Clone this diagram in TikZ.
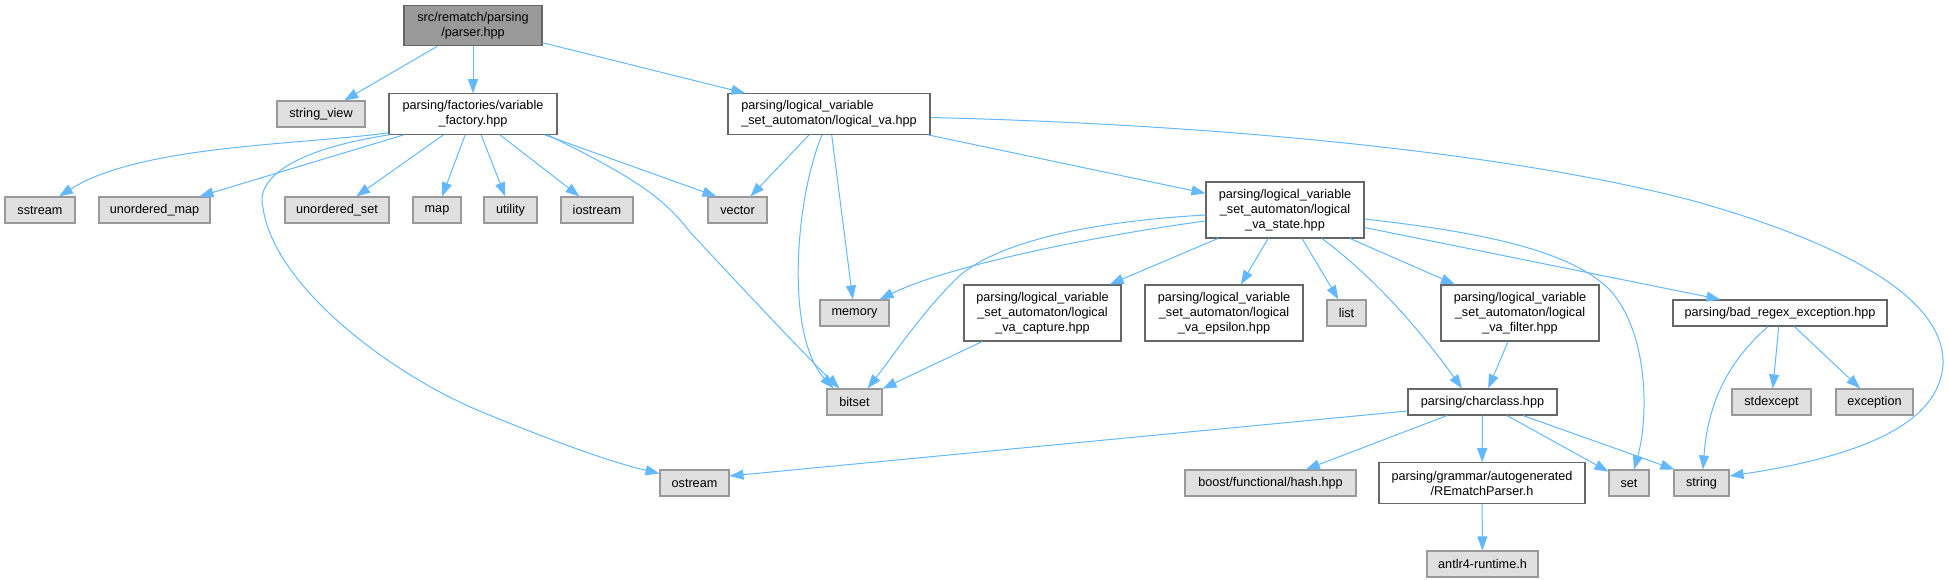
\documentclass[tikz,border=0pt]{standalone}
\usepackage{fontspec}
\setmainfont{Liberation Sans}
\usetikzlibrary{arrows.meta,calc}
\definecolor{edgec}{HTML}{63B8FF}
\definecolor{extfill}{HTML}{E0E0E0}
\definecolor{extdraw}{HTML}{999999}
\definecolor{intdraw}{HTML}{666666}
\definecolor{rootfill}{HTML}{999999}
\begin{document}
\begin{tikzpicture}[x=0.75pt,y=-0.75pt,
  box/.style={draw=intdraw, fill=white, line width=0.8pt, inner sep=0pt,
    font=\fontsize{9.5}{11.2}\selectfont, align=center, minimum height=19.5pt},
  ext/.style={box, draw=extdraw, fill=extfill},
  root/.style={box, fill=rootfill},
  two/.style={minimum height=30.4pt},
  three/.style={minimum height=42pt},
  dep/.style={draw=edgec, line width=0.75pt, -{Triangle[length=10.5pt,width=7.5pt]}},
]
\useasboundingbox (0,0) rectangle (1949,579);

% nodes
\node[root, two, minimum width=103.5pt] (parser) at (473,25.5) {src/rematch/parsing\\/parser.hpp};
\node[ext, minimum width=66pt] (sv) at (321,114) {string\_view};
\node[box, two, minimum width=126pt] (vf) at (473,114) {parsing/factories/variable\\\_factory.hpp};
\node[box, two, minimum width=151.5pt, align=left] (lva) at (829,114) {parsing/logical\_variable\\\_set\_automaton/logical\_va.hpp};

\node[ext, minimum width=52.5pt] (sstream) at (40,210) {sstream};
\node[ext, minimum width=83.25pt] (umap) at (154.5,210) {unordered\_map};
\node[ext, minimum width=78pt] (uset) at (337,210) {unordered\_set};
\node[ext, minimum width=36pt] (map) at (437,210) {map};
\node[ext, minimum width=39.75pt] (utility) at (510.5,210) {utility};
\node[ext, minimum width=54pt] (iostream) at (597,210) {iostream};
\node[ext, minimum width=44.25pt] (vector) at (737.5,210) {vector};
\node[box, three, minimum width=118.5pt] (state) at (1285,210) {parsing/logical\_variable\\\_set\_automaton/logical\\\_va\_state.hpp};

\node[ext, minimum width=51.75pt] (memory) at (854.5,313) {memory};
\node[box, three, minimum width=117.75pt] (capture) at (1042.5,313) {parsing/logical\_variable\\\_set\_automaton/logical\\\_va\_capture.hpp};
\node[box, three, minimum width=118.5pt] (epsilon) at (1224,313) {parsing/logical\_variable\\\_set\_automaton/logical\\\_va\_epsilon.hpp};
\node[ext, minimum width=29.25pt] (list) at (1346.5,313) {list};
\node[box, three, minimum width=118.5pt] (filter) at (1520,313) {parsing/logical\_variable\\\_set\_automaton/logical\\\_va\_filter.hpp};
\node[box, minimum width=160.5pt] (badre) at (1780,313) {parsing/bad\_regex\_exception.hpp};

\node[ext, minimum width=41.25pt] (bitset) at (854.5,402) {bitset};
\node[box, minimum width=111.75pt] (charclass) at (1482.5,402) {parsing/charclass.hpp};
\node[ext, minimum width=59.25pt] (stdexcept) at (1771.5,402) {stdexcept};
\node[ext, minimum width=57.75pt] (exception) at (1874.5,402) {exception};

\node[ext, minimum width=51.75pt] (ostream) at (694.5,483) {ostream};
\node[ext, minimum width=128.25pt] (hash) at (1270.5,483) {boost/functional/hash.hpp};
\node[box, two, minimum width=154.5pt] (rematch) at (1482,483) {parsing/grammar/autogenerated\\/REmatchParser.h};
\node[ext, minimum width=30pt] (set) at (1629,483) {set};
\node[ext, minimum width=41.25pt] (string) at (1701.5,483) {string};

\node[ext, minimum width=83.25pt] (antlr) at (1482.5,564) {antlr4-runtime.h};

% edges from parser
\draw[dep] (parser) -- (sv);
\draw[dep] (parser) -- (vf);
\draw[dep] (parser) -- (lva);

% edges from variable_factory
\draw[dep] ($(vf.south west)+(0,-2)$) .. controls (300,145) and (140,145) .. ($(sstream.north)+(19,0)$);
\draw[dep] (vf) -- (umap);
\draw[dep] ($(vf.south west)+(1,0)$) .. controls (290,150) and (255,180) .. (263,208)
  .. controls (275,290) and (400,380) .. (487,414)
  .. controls (550,440) and (610,462) .. ($(ostream.north west)+(0,4)$);
\draw[dep] (vf) -- (uset);
\draw[dep] (vf) -- (map);
\draw[dep] (vf) -- (utility);
\draw[dep] (vf) -- (iostream);
\draw[dep] ($(vf.south east)+(-13,0)$) -- ($(vector.north west)+(9,0)$);
\draw[dep] ($(vf.south east)+(-10,0)$) .. controls (640,180) and (665,200) .. (690,232)
  .. controls (730,275) and (800,350) .. ($(bitset.north west)+(13,0)$);

% edges from logical_va
\draw[dep] (lva) -- (vector);
\draw[dep] ($(lva.south)+(-7,0)$) .. controls (795,200) and (785,335) .. ($(bitset.north west)+(7,0)$);
\draw[dep] (lva) -- (memory);
\draw[dep] (lva) -- (state);
\draw[dep] ($(lva.east)+(0,3.5)$) .. controls (1200,124) and (1500,150) .. (1694,201)
  .. controls (1850,245) and (1945,300) .. (1943,364)
  .. controls (1940,420) and (1870,455) .. ($(string.east)+(0,-7)$);

% edges from logical_va_state
\draw[dep] ($(state.west)+(0,11)$) .. controls (1100,235) and (950,265) .. ($(memory.north east)+(-10,0)$);
\draw[dep] ($(state.west)+(0,5)$) .. controls (1080,222) and (990,245) .. (955,280)
  .. controls (920,315) and (890,360) .. ($(bitset.north east)+(-15,0)$);
\draw[dep] (state) -- (capture);
\draw[dep] (state) -- (epsilon);
\draw[dep] (state) -- (list);
\draw[dep] ($(state.south)+(37,0)$) .. controls (1375,278) and (1420,330) .. ($(charclass.north)+(-20.5,0)$);
\draw[dep] (state) -- (filter);
\draw[dep] ($(state.east)+(0,9)$) .. controls (1480,232) and (1570,250) .. (1610,290)
  .. controls (1650,335) and (1648,420) .. ($(set.north)+(5,0)$);
\draw[dep] ($(state.east)+(0,17.5)$) -- ($(badre.north west)+(48,0)$);

% other edges
\draw[dep] (capture) -- (bitset);
\draw[dep] (filter) -- (charclass);
\draw[dep] ($(badre.south)+(-12,0)$) .. controls (1730,360) and (1708,400) .. ($(string.north)+(1.5,0)$);
\draw[dep] (badre) -- (stdexcept);
\draw[dep] (badre) -- (exception);
\draw[dep] ($(charclass.west)+(0,9)$) -- ($(ostream.east)+(0,-7)$);
\draw[dep] (charclass) -- (hash);
\draw[dep] (charclass) -- (rematch);
\draw[dep] (charclass) -- (set);
\draw[dep] ($(charclass.south)+(40.5,0)$) -- ($(string.north west)+(1,0)$);
\draw[dep] (rematch) -- (antlr);
\end{tikzpicture}
\end{document}
